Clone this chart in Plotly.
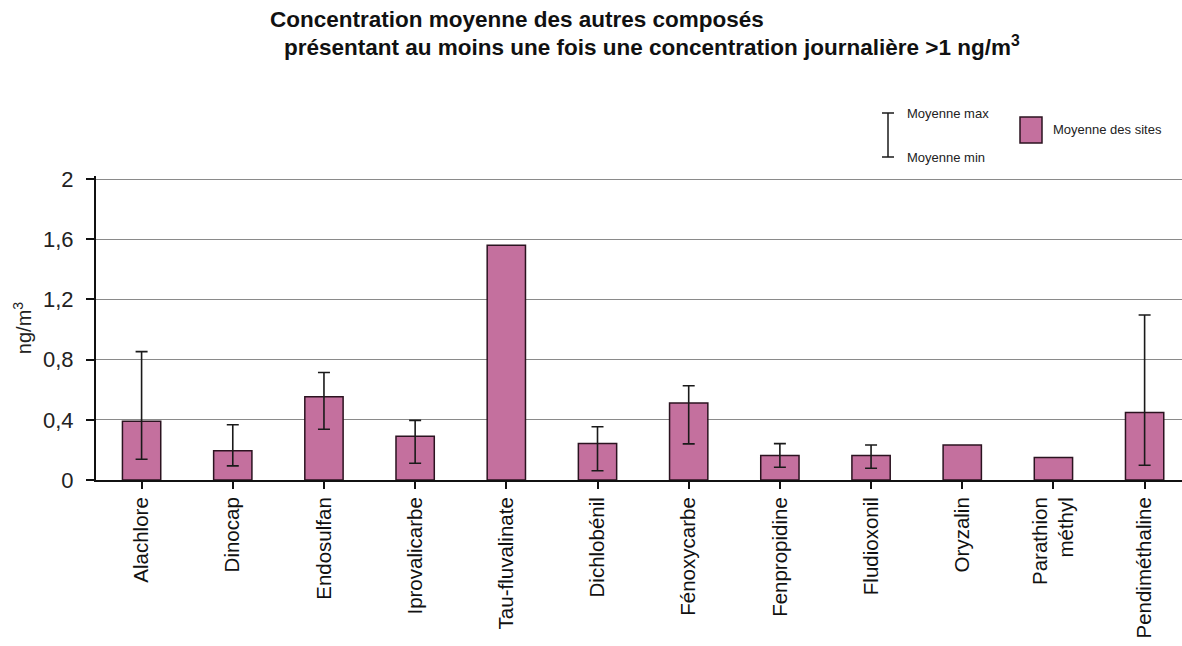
import plotly.graph_objects as go

# Composés et concentrations (ng/m3)
composes = ["Alachlore", "Dinocap", "Endosulfan", "Iprovalicarbe", "Tau-fluvalinate",
            "Dichlobénil", "Fénoxycarbe", "Fenpropidine", "Fludioxonil", "Oryzalin",
            "Parathion<br>méthyl", "Pendiméthaline"]
moyenne_sites = [0.39, 0.195, 0.553, 0.29, 1.56, 0.242, 0.511, 0.162, 0.162, 0.233, 0.149, 0.449]
moyenne_max = [0.853, 0.367, 0.714, 0.396, None, 0.354, 0.626, 0.242, 0.233, None, None, 1.096]
moyenne_min = [0.138, 0.094, 0.337, 0.111, None, 0.061, 0.24, 0.085, 0.078, None, None, 0.098]
y_ticks = [0, 0.4, 0.8, 1.2, 1.6, 2]
y_tick_labels = ["0", "0,4", "0,8", "1,2", "1,6", "2"]

x_pos = list(range(len(composes)))

# Points portant les barres d'erreur : seulement là où min et max existent
has_range = [hi is not None and lo is not None for hi, lo in zip(moyenne_max, moyenne_min)]
err_y = [m if ok else None for m, ok in zip(moyenne_sites, has_range)]
err_plus = [(hi - m) if ok else 0 for m, hi, ok in zip(moyenne_sites, moyenne_max, has_range)]
err_minus = [(m - lo) if ok else 0 for m, lo, ok in zip(moyenne_sites, moyenne_min, has_range)]

BAR_COLOR = "#C4709E"
EDGE_COLOR = "#2B1320"
FONT = "Liberation Sans, Arial, sans-serif"

W, H = 1182, 646
M_L, M_R, M_T, M_B = 96, 0, 176, 166

fig = go.Figure()
fig.add_trace(go.Bar(
    x=x_pos,
    y=moyenne_sites,
    width=0.42,
    marker=dict(color=BAR_COLOR, line=dict(color=EDGE_COLOR, width=1.5)),
    showlegend=False,
    hoverinfo="skip",
))
fig.add_trace(go.Scatter(
    x=x_pos,
    y=err_y,
    mode="markers",
    marker=dict(size=0.1, color="rgba(0,0,0,0)"),
    error_y=dict(type="data", symmetric=False, array=err_plus, arrayminus=err_minus,
                 color="#1A1A1A", thickness=1.6, width=6),
    showlegend=False,
    hoverinfo="skip",
))

fig.update_layout(
    width=W, height=H,
    margin=dict(l=M_L, r=M_R, t=M_T, b=M_B),
    plot_bgcolor="white", paper_bgcolor="white",
    font=dict(family=FONT, color="#111111"),
    xaxis=dict(
        range=[-0.5, 11.41],
        tickmode="array",
        tickvals=x_pos,
        ticktext=composes,
        tickangle=-90,
        tickfont=dict(size=20.5, color="#111111"),
        ticks="outside", tickson="boundaries", ticklen=7, tickwidth=1.5, tickcolor="#111111",
        showline=True, linecolor="#111111", linewidth=2,
        showgrid=False, zeroline=False,
    ),
    yaxis=dict(
        range=[0, 2.02],
        tickmode="array",
        tickvals=y_ticks,
        ticktext=y_tick_labels,
        tickfont=dict(size=22, color="#222222"),
        ticks="outside", ticklen=8, tickwidth=1.5, tickcolor="#111111",
        ticklabelstandoff=8,
        showline=True, linecolor="#111111", linewidth=2,
        showgrid=True, gridcolor="#8A8A8A", gridwidth=1.3,
        zeroline=False,
        title=dict(text="ng/m<sup>3</sup>", font=dict(size=20, color="#222222"), standoff=6),
    ),
)

# Conversion pixels -> coordonnées papier pour le titre et la légende
pw, ph = W - M_L - M_R, H - M_T - M_B


def px(x):
    return (x - M_L) / pw


def py(y):
    return (H - M_B - y) / ph


# Titre sur deux lignes
fig.add_annotation(x=px(268), y=py(19), xref="paper", yref="paper",
                   text="<b>Concentration moyenne des autres composés</b>",
                   showarrow=False, xanchor="left", yanchor="middle", font=dict(size=22.5, color="#111111"))
fig.add_annotation(x=px(282), y=py(46), xref="paper", yref="paper",
                   text="<b>présentant au moins une fois une concentration journalière >1 ng/m<sup>3</sup></b>",
                   showarrow=False, xanchor="left", yanchor="middle", font=dict(size=22.5, color="#111111"))

# Légende dessinée à la main
legend_shapes = [
    dict(type="line", x0=px(888), x1=px(888), y0=py(113), y1=py(157)),
    dict(type="line", x0=px(882), x1=px(894), y0=py(113), y1=py(113)),
    dict(type="line", x0=px(882), x1=px(894), y0=py(157), y1=py(157)),
]
for s in legend_shapes:
    fig.add_shape(**s, xref="paper", yref="paper", line=dict(color="#1A1A1A", width=1.5))
fig.add_shape(type="rect", xref="paper", yref="paper", x0=px(1020), x1=px(1042), y0=py(143), y1=py(117),
              fillcolor=BAR_COLOR, line=dict(color=EDGE_COLOR, width=1.5))

for txt, x, y in [("Moyenne max", 905, 113), ("Moyenne min", 905, 157), ("Moyenne des sites", 1051, 130)]:
    fig.add_annotation(x=px(x), y=py(y), xref="paper", yref="paper", text=txt, showarrow=False,
                       xanchor="left", yanchor="middle", font=dict(size=13, color="#222222"))

fig.write_html("out.html")
